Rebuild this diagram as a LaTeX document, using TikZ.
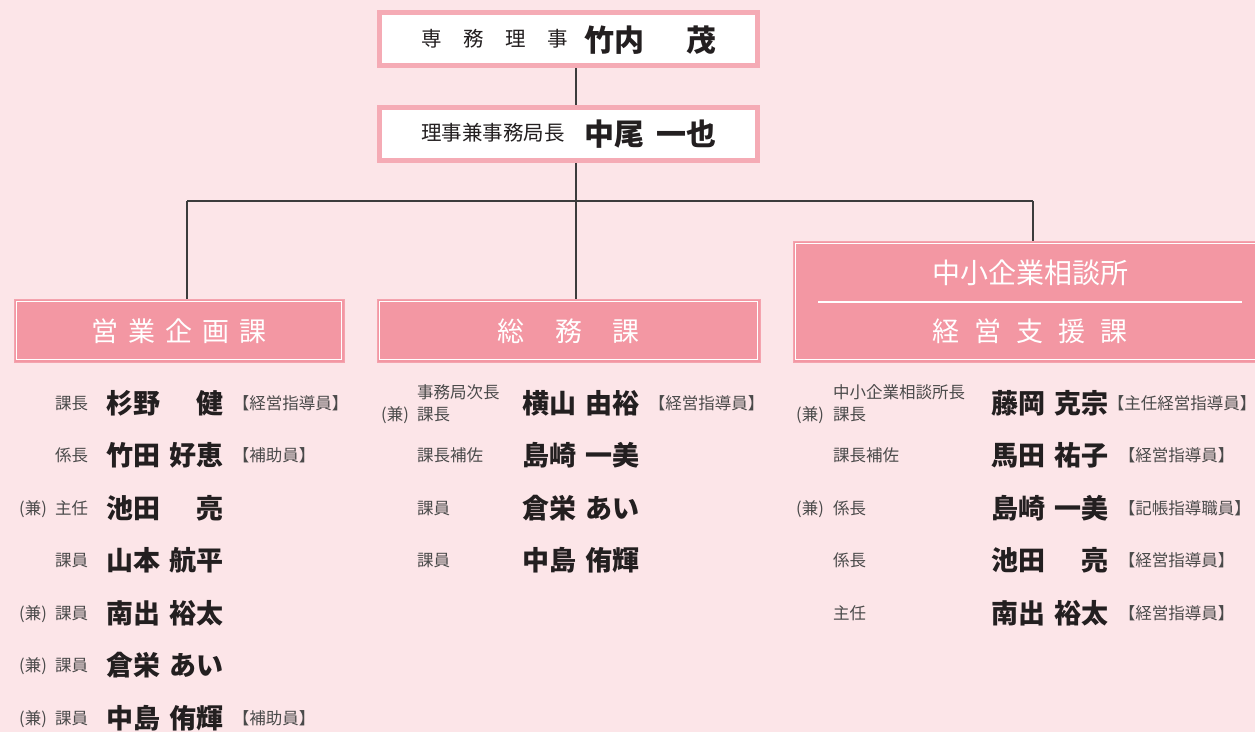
\documentclass[tikz,border=0pt]{standalone}
\usepackage{fontspec}
\setmainfont{Noto Sans CJK JP}
\usetikzlibrary{calc}
\definecolor{bgc}{HTML}{FCE5E8}
\definecolor{bord}{HTML}{F5ABB5}
\definecolor{secf}{HTML}{F397A3}
\definecolor{secb}{HTML}{F4A3AE}
\definecolor{ink}{HTML}{231F20}
\definecolor{lab}{HTML}{4A4A4A}
\definecolor{lnc}{HTML}{3C3C3C}
\pgfdeclarelayer{back}
\pgfsetlayers{back,main}
\newcommand\nmbox[2]{\makebox[117pt]{#1\hfill#2}}
\newcommand\brk[1]{\kern-.5em【#1】}
\begin{document}
\begin{tikzpicture}[x=1pt,y=-1pt,
  topbox/.style={draw=bord,line width=5pt,fill=white,minimum width=378pt,minimum height=53pt,inner sep=0},
  secbox/.style={draw=secb,line width=1pt,fill=secf,inner sep=0},
  txt/.style={anchor=west,inner sep=0},
  nm/.style={txt,font=\fontsize{27}{27}\selectfont\bfseries,text=ink,text height=23.8pt,text depth=3.2pt},
  lb/.style={txt,font=\fontsize{16.5}{16.5}\selectfont,text=lab,text height=14.5pt,text depth=2pt},
  ttl/.style={inner sep=0,text height=23.8pt,text depth=3.2pt,text=white,font=\fontsize{27}{27}\selectfont},
  tsm/.style={txt,font=\fontsize{20.5}{20.5}\selectfont,text=ink,text height=18pt,text depth=2.5pt},
  tbg/.style={txt,font=\fontsize{30}{30}\selectfont\bfseries,text=ink,text height=26.4pt,text depth=3.6pt},
  conn/.style={draw=lnc,line width=1.5pt}
]
\useasboundingbox (0,0) rectangle (1255,732);
% top boxes
\node[topbox] (t1) at (568.5,39) {};
\node[topbox] (t2) at (568.5,134) {};
\node[tsm] (t1r) at (421,39) {専\hspace{21.5pt}務\hspace{21.5pt}理\hspace{21.5pt}事};
\node[tbg] (t1n) at (584,40) {\makebox[132pt]{竹内\hfill 茂}};
\node[tsm] (t2r) at (421,133) {理事兼事務局長};
\node[tbg] (t2n) at (584,134) {\makebox[132pt]{中尾\hfill 一也}};
% section boxes
\node[secbox,minimum width=330pt,minimum height=63pt] (s1) at (179,330.5) {};
\node[secbox,minimum width=383pt,minimum height=63pt] (s2) at (568.5,330.5) {};
\node[secbox,minimum width=469pt,minimum height=121pt] (s3) at (1027.5,301.5) {};
\foreach \s in {s1,s2,s3}{
  \draw[white,line width=1.2pt] ([shift={(3,3)}]\s.north west) rectangle ([shift={(-3,-3)}]\s.south east);
}
\coordinate (d1) at (818,302);
\coordinate (d2) at (1242,302);
\draw[white,line width=1.2pt] (d1) -- (d2);
\node[ttl] (s1t) at (179,331) {営\hspace{10pt}業\hspace{10pt}企\hspace{10pt}画\hspace{10pt}課};
\node[ttl] (s2t) at (568.5,331) {総\hspace{31pt}務\hspace{31pt}課};
\node[ttl,font=\fontsize{28}{28}\selectfont,text height=24.6pt,text depth=3.4pt] (s3a) at (1030,273) {中小企業相談所};
\node[ttl] (s3b) at (1030,331) {経\hspace{15pt}営\hspace{15pt}支\hspace{15pt}援\hspace{15pt}課};
% connectors
\begin{pgfonlayer}{back}
\fill[bgc] (0,0) rectangle (1255,732);
\coordinate (cx) at (576,0);
\coordinate (b1) at (187,201);
\coordinate (b3) at (1033,201);
\draw[conn] (t1.south -| cx) -- (t2.north -| cx);
\draw[conn] (t2.south -| cx) -- (s2.north -| cx);
\draw[conn] (b1) -- (b3);
\draw[conn] (b1) -- (b1 |- s1.north);
\draw[conn] (b3) -- (b3 |- s3.north);
\end{pgfonlayer}
% column 1
\node[lb] (a1r) at (55,403) {課長};
\node[nm] (a1n) at (106,403) {\nmbox{杉野}{健}};
\node[lb] (a1b) at (241,403) {\brk{経営指導員}};
\node[lb] (a2r) at (55,455) {係長};
\node[nm] (a2n) at (106,455) {\nmbox{竹田}{好恵}};
\node[lb] (a2b) at (241,455) {\brk{補助員}};
\node[lb] (a3k) at (19,508) {(兼)};
\node[lb] (a3r) at (55,508) {主任};
\node[nm] (a3n) at (106,508) {\nmbox{池田}{亮}};
\node[lb] (a4r) at (55,560) {課員};
\node[nm] (a4n) at (106,560) {\nmbox{山本}{航平}};
\node[lb] (a5k) at (19,613) {(兼)};
\node[lb] (a5r) at (55,613) {課員};
\node[nm] (a5n) at (106,613) {\nmbox{南出}{裕太}};
\node[lb] (a6k) at (19,665) {(兼)};
\node[lb] (a6r) at (55,665) {課員};
\node[nm] (a6n) at (106,665) {\nmbox{倉栄}{あい}};
\node[lb] (a7k) at (19,718) {(兼)};
\node[lb] (a7r) at (55,718) {課員};
\node[nm] (a7n) at (106,718) {\nmbox{中島}{侑輝}};
\node[lb] (a7b) at (241,718) {\brk{補助員}};
% column 2
\node[lb] (b1r) at (417,392) {事務局次長};
\node[lb] (b1s) at (417,414) {課長};
\node[lb] (b1k) at (381,414) {(兼)};
\node[nm] (b1n) at (522,403) {\nmbox{横山}{由裕}};
\node[lb] (b1b) at (657,403) {\brk{経営指導員}};
\node[lb] (b2r) at (417,455) {課長補佐};
\node[nm] (b2n) at (522,455) {\nmbox{島崎}{一美}};
\node[lb] (b3r) at (417,508) {課員};
\node[nm] (b3n) at (522,508) {\nmbox{倉栄}{あい}};
\node[lb] (b4r) at (417,560) {課員};
\node[nm] (b4n) at (522,560) {\nmbox{中島}{侑輝}};
% column 3
\node[lb] (c1r) at (833,392) {中小企業相談所長};
\node[lb] (c1s) at (833,414) {課長};
\node[lb] (c1k) at (796,414) {(兼)};
\node[nm] (c1n) at (991,403) {\nmbox{藤岡}{克宗}};
\node[lb] (c1b) at (1116,403) {\brk{主任経営指導員}};
\node[lb] (c2r) at (833,455) {課長補佐};
\node[nm] (c2n) at (991,455) {\nmbox{馬田}{祐子}};
\node[lb] (c2b) at (1127,455) {\brk{経営指導員}};
\node[lb] (c3k) at (796,508) {(兼)};
\node[lb] (c3r) at (833,508) {係長};
\node[nm] (c3n) at (991,508) {\nmbox{島崎}{一美}};
\node[lb] (c3b) at (1127,508) {\brk{記帳指導職員}};
\node[lb] (c4r) at (833,560) {係長};
\node[nm] (c4n) at (991,560) {\nmbox{池田}{亮}};
\node[lb] (c4b) at (1127,560) {\brk{経営指導員}};
\node[lb] (c5r) at (833,613) {主任};
\node[nm] (c5n) at (991,613) {\nmbox{南出}{裕太}};
\node[lb] (c5b) at (1127,613) {\brk{経営指導員}};
\end{tikzpicture}
\end{document}
